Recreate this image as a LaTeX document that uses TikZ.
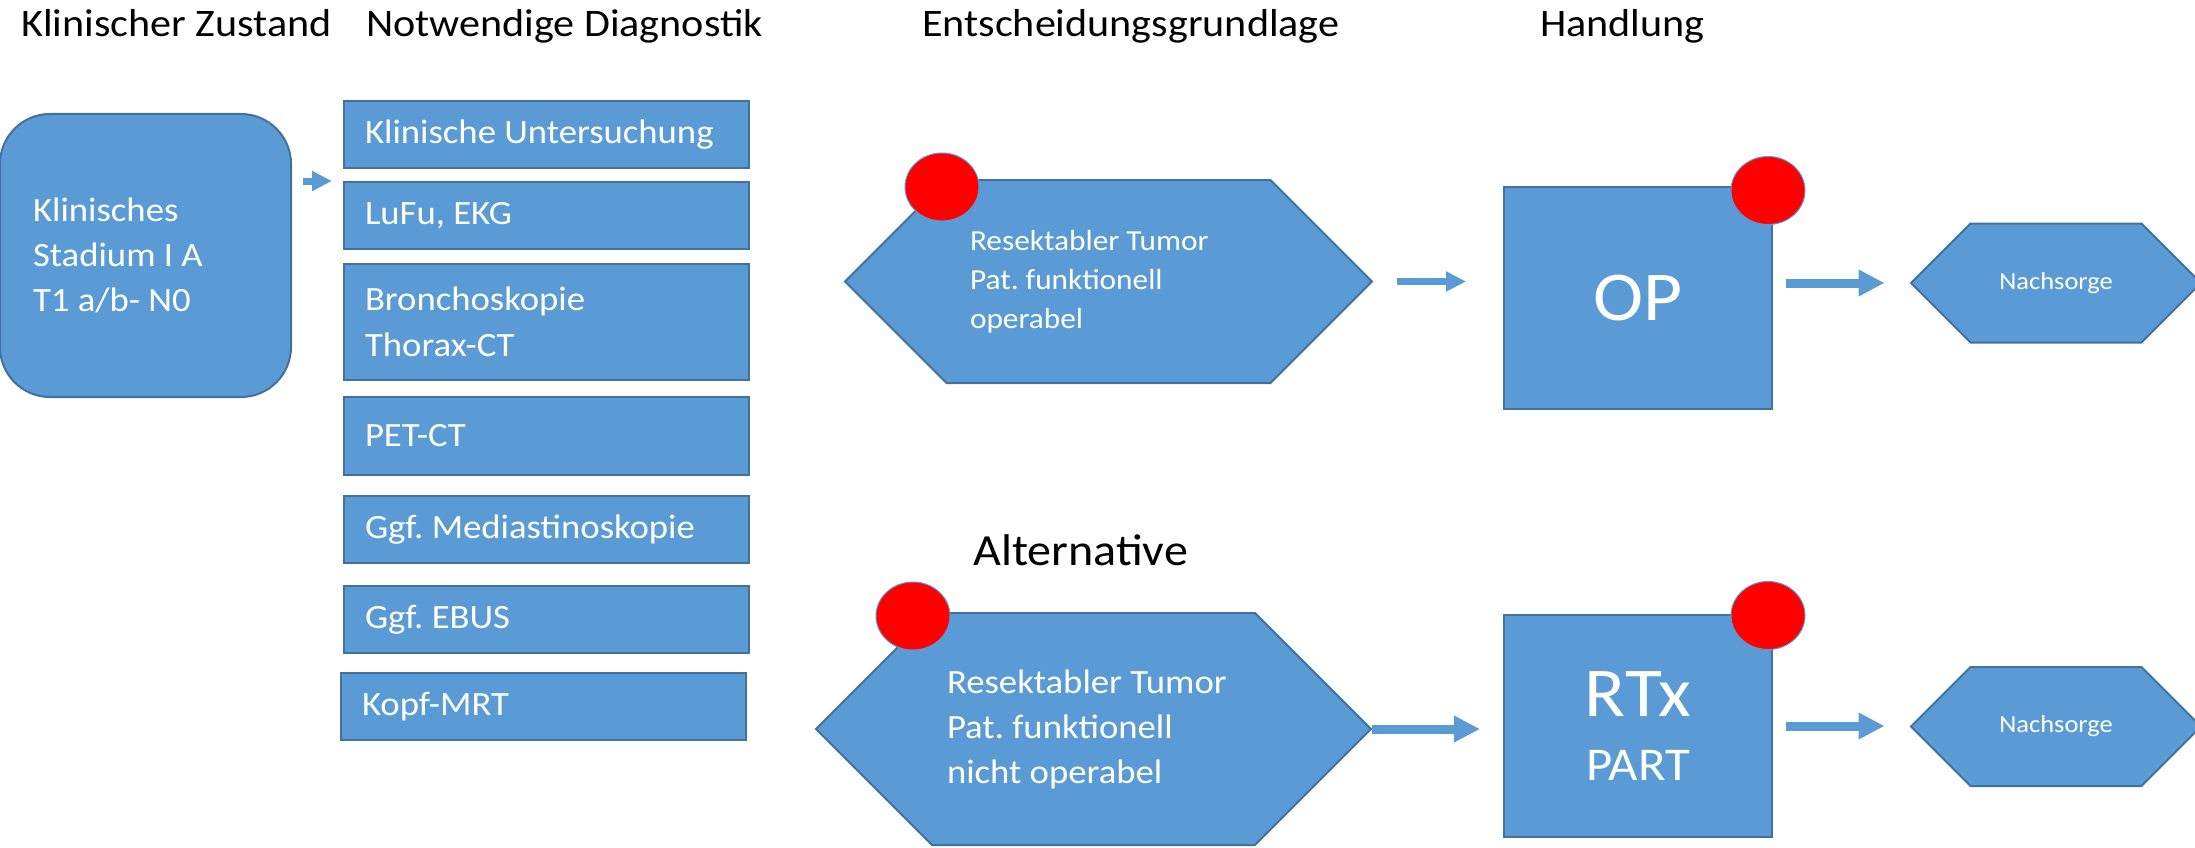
\documentclass[tikz,border=0pt]{standalone}
\usepackage{fontspec}
\setmainfont[FakeStretch=1.08]{Carlito}
\frenchspacing
\usetikzlibrary{arrows.meta, positioning, shapes.geometric, shapes.symbols}
\definecolor{boxblue}{HTML}{5B9BD5}
\definecolor{boxedge}{HTML}{41719C}
\definecolor{dotred}{HTML}{FF0000}
\tikzset{
    header/.style={anchor=base west, inner sep=0pt, font=\fontsize{39}{47}\selectfont},
    stepbox/.style={draw=boxedge, fill=boxblue, line width=2pt, text=white},
    statebox/.style={stepbox, rounded corners=50pt, minimum width=291pt, minimum height=283pt,
        text width=225pt, inner xsep=33pt, align=flush left, font=\fontsize{34}{45}\selectfont},
    diagbox/.style={stepbox, minimum width=405pt, minimum height=67pt,
        text width=363pt, inner xsep=21pt, align=flush left, font=\fontsize{34}{46}\selectfont},
    hexbox/.style={stepbox, shape=signal, signal to=east and west, signal pointer angle=90,
        inner sep=0pt, align=flush left},
    actbox/.style={stepbox, minimum width=268pt, minimum height=222pt, align=center},
    dotmark/.style={ellipse, fill=dotred, draw=boxblue, line width=1pt,
        minimum width=74pt, minimum height=68pt, inner sep=0pt},
    blockarrow/.style={boxblue, line width=9pt, -{Triangle[length=26pt, width=25pt]}},
    smallarrow/.style={boxblue, line width=7pt, -{Triangle[length=20pt, width=19pt]}}
}
\begin{document}
\begin{tikzpicture}[x=1pt, y=-1pt]
    % Page frame
    \useasboundingbox (0,0) rectangle (2195,848);
    % Column headings
    \node[header] (hzustand) at (21,37) {Klinischer Zustand};
    \node[header] (hdiag) at (366,37) {Notwendige Diagnostik};
    \node[header] (hentsch) at (922,37) {Entscheidungsgrundlage};
    \node[header] (hhandl) at (1540,37) {Handlung};
    \node[header, font=\fontsize{44.5}{54}\selectfont] (halt) at (973,565) {Alternative};
    % Clinical state
    \node[statebox] (klin) at (145.5,255.5) {Klinisches\\Stadium I A\\T1 a/b- N0};
    % Required diagnostics
    \node[diagbox] (unters) at (546.5,134.5) {Klinische Untersuchung};
    \node[diagbox] (lufu) at (546.5,215.5) {LuFu, EKG};
    \node[diagbox, minimum height=116pt] (broncho) at (546.5,322) {Bronchoskopie\\Thorax-CT};
    \node[diagbox, minimum height=78pt] (petct) at (546.5,436) {PET-CT};
    \node[diagbox] (medias) at (546.5,529.5) {Ggf. Mediastinoskopie};
    \node[diagbox] (ebus) at (546.5,619.5) {Ggf. EBUS};
    \node[diagbox] (kopf) at (543.5,706.5) {Kopf-MRT};
    % Decision basis
    \node[hexbox, minimum width=527pt, minimum height=203pt, text width=277pt,
        font=\fontsize{29}{39}\selectfont] (hexa) at (1108.5,281.5)
        {Resektabler Tumor\\Pat. funktionell\\operabel};
    \node[hexbox, minimum width=555pt, minimum height=232pt, text width=293pt,
        font=\fontsize{34}{45}\selectfont] (hexb) at (1093.5,729)
        {Resektabler Tumor\\Pat. funktionell\\nicht operabel};
    % Actions
    \node[actbox, font=\fontsize{70}{70}\selectfont] (op) at (1638,298) {OP};
    \node[actbox, font=\fontsize{47}{64}\selectfont] (rtx) at (1638,726)
        {{\fontsize{70}{64}\selectfont RTx}\\PART};
    % Follow-up
    \node[hexbox, minimum width=290pt, minimum height=119pt, align=center,
        font=\fontsize{24.5}{30}\selectfont] (nacha) at (2056,283) {Nachsorge};
    \node[hexbox, minimum width=290pt, minimum height=119pt, align=center,
        font=\fontsize{24.5}{30}\selectfont] (nachb) at (2056,726.5) {Nachsorge};
    % Red markers
    \node[dotmark] (dothexa) at (942,187) {};
    \node[dotmark] (dothexb) at (913,616) {};
    \node[dotmark] (dotop) at (1768,190.5) {};
    \node[dotmark] (dotrtx) at (1768,615.5) {};
    % Arrows
    \draw[smallarrow, shorten <=11pt, shorten >=11pt] (klin.east |- lufu.north) -- (lufu.west |- lufu.north);
    \draw[smallarrow, shorten <=24pt, shorten >=37pt] (hexa.east) -- (hexa.east -| op.west);
    \draw[blockarrow, shorten >=23pt] (hexb.east) -- (hexb.east -| rtx.west);
    \draw[blockarrow, shorten <=13pt, shorten >=25pt] (op.east |- nacha.west) -- (nacha.west);
    \draw[blockarrow, shorten <=13pt, shorten >=25pt] (rtx.east) -- (rtx.east -| nachb.west);
\end{tikzpicture}
\end{document}
